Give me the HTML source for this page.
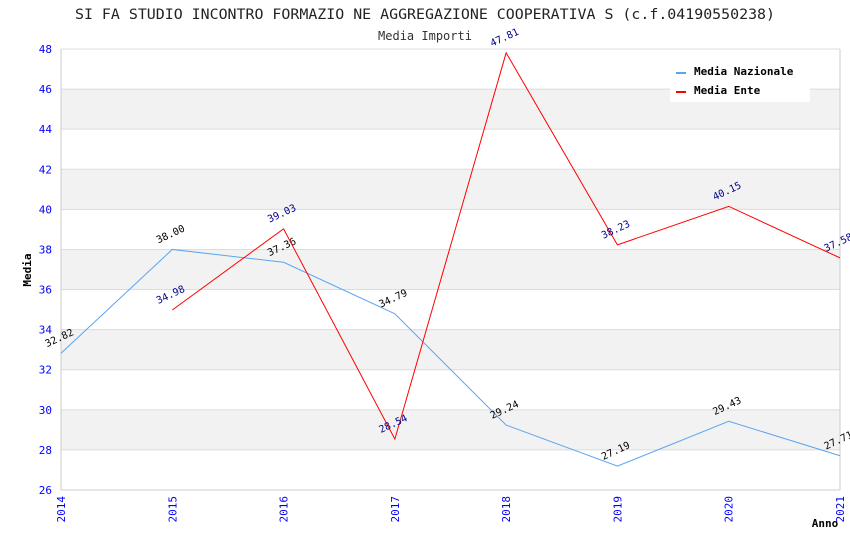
<!DOCTYPE html>
<html><head><meta charset="utf-8"><style>
body{margin:0;background:#fff}
text{font-family:"DejaVu Sans Mono","Liberation Mono",monospace}
</style></head><body>
<svg id="chart" width="850" height="550" xmlns="http://www.w3.org/2000/svg">
<text x="425" y="19" text-anchor="middle" font-size="14" fill="#222" textLength="700" lengthAdjust="spacingAndGlyphs">SI FA STUDIO INCONTRO FORMAZIO NE AGGREGAZIONE COOPERATIVA S (c.f.04190550238)</text>
<text x="425" y="40" text-anchor="middle" font-size="12" fill="#333">Media Importi</text>
<g id="grid"></g>
<g id="axes"></g>
<g id="series"></g>
<text x="31" y="270" text-anchor="middle" font-size="11" font-weight="bold" fill="#000" transform="rotate(-90 31 270)">Media</text>
<text x="825" y="527" text-anchor="middle" font-size="11" font-weight="bold" fill="#000">Anno</text>
<g>
<rect x="670" y="60" width="140" height="42" fill="#fff"/>
<rect x="676" y="72" width="10" height="2" fill="#5aa5f0"/>
<text x="694" y="75" font-size="11" font-weight="bold" fill="#000">Media Nazionale</text>
<rect x="676" y="91" width="10" height="2" fill="#ff0000"/>
<text x="694" y="94" font-size="11" font-weight="bold" fill="#000">Media Ente</text>
</g>
</svg>
<script>
const years = [2014,2015,2016,2017,2018,2019,2020,2021];
const nazionale = [32.82,38.00,37.36,34.79,29.24,27.19,29.43,27.71];
const ente = [null,34.98,39.03,28.54,47.81,38.23,40.15,37.58];
const yTicks = [26,28,30,32,34,36,38,40,42,44,46,48];
const NS="http://www.w3.org/2000/svg";
const L=61,R=840,T=49,B=490,yMin=26,yMax=48;
const xs=i=>L+(R-L)*i/(years.length-1);
const ys=v=>B-(v-yMin)/(yMax-yMin)*(B-T);
function mk(tag,attrs,parent){const e=document.createElementNS(NS,tag);for(const k in attrs)e.setAttribute(k,attrs[k]);parent.appendChild(e);return e;}
const grid=document.getElementById('grid'),axes=document.getElementById('axes'),ser=document.getElementById('series');
for(let i=0;i<yTicks.length-1;i++){
  if(i%2===1){const r=mk('rect',{x:L,y:ys(yTicks[i+1]),width:R-L,height:ys(yTicks[i])-ys(yTicks[i+1]),fill:'#f2f2f2'},grid);
  
  }
}
yTicks.forEach(v=>{
  const l=mk('line',{x1:L,x2:R,y1:ys(v),y2:ys(v),stroke:'#dcdcdc','stroke-width':1},grid);
  
  
  const t=mk('text',{x:52,y:ys(v)+4,'text-anchor':'end','font-size':11,fill:'#0000ff'},axes);
  t.textContent=v;
  
  
});
mk('line',{x1:L,x2:L,y1:T,y2:B,stroke:'#ccc'},axes);
mk('line',{x1:R,x2:R,y1:T,y2:B,stroke:'#ccc'},axes);
mk('line',{x1:L,x2:R,y1:B,y2:B,stroke:'#ccc'},axes);
years.forEach((y,i)=>{
  const x=xs(i);
  const t=mk('text',{x:x+4,y:B+6,'text-anchor':'end','font-size':11,fill:'#0000ff',transform:`rotate(-90 ${x+4} ${B+6})`},axes);
  t.textContent=y;
  
  
});
function drawSeries(vals,color,labelColor,name){
  let d='';vals.forEach((v,i)=>{if(v==null)return;d+=(d?'L':'M')+xs(i)+' '+ys(v);});
  const p=mk('path',{d:d,fill:'none',stroke:color,'stroke-width':1},ser);
  
  
  vals.forEach((v,i)=>{if(v==null)return;
    const x=xs(i)-14,y=ys(v)-6;
    const t=mk('text',{x:x,y:y,'font-size':10,fill:labelColor,transform:`rotate(-25 ${x} ${y})`},ser);
    t.textContent=v.toFixed(2);
    
    
  });
}
drawSeries(nazionale,'#5aa5f0','#000','nazionale');
drawSeries(ente,'#ff0000','#00008b','ente');
</script>
</body></html>
